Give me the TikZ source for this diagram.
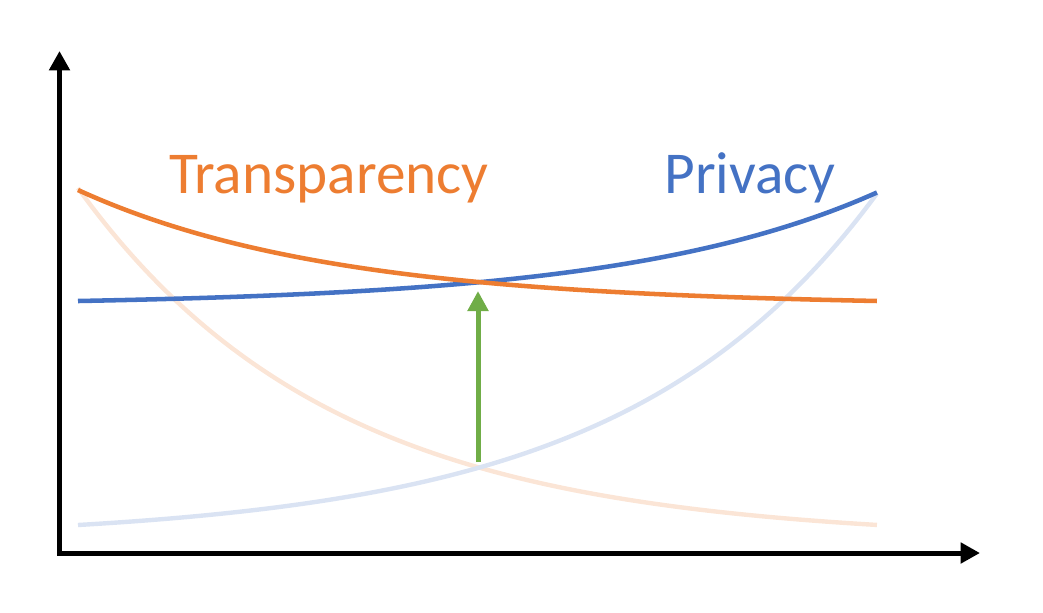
\documentclass[tikz,border=0pt]{standalone}
\usepackage{fontspec}
\setmainfont{Carlito}
\usetikzlibrary{arrows.meta}
\definecolor{cOrange}{HTML}{ED7D31}
\definecolor{cBlue}{HTML}{4472C4}
\definecolor{cGreen}{HTML}{70AD47}
\definecolor{cOrangeL}{HTML}{FBE5D6}
\definecolor{cBlueL}{HTML}{DAE3F3}
\tikzset{
  axisline/.style={line width=3.75pt, black, line join=miter,
    {Triangle[width=15pt,length=14.5pt]}-{Triangle[width=15pt,length=14.5pt]}},
  curve/.style={line width=3.4pt},
  faded/.style={line width=3.3pt},
  lift/.style={line width=3.75pt, cGreen, -{Triangle[width=15pt,length=15pt]}},
  label/.style={inner sep=0pt, anchor=base, font=\fontsize{44.5pt}{44.5pt}\selectfont}
}
\begin{document}
\begin{tikzpicture}[x=0.75pt,y=-0.75pt]
\useasboundingbox (0,0) rectangle (1043,612);
% axes
\coordinate (ytop) at (59.5,51);
\coordinate (xend) at (980,553);
\draw[axisline] (ytop) |- (xend);
% faded curves
\draw[faded, cOrangeL] plot[domain=0:1, samples=120, variable=\t]
  ({78+800*\t}, {525-337*(exp(3.15*(1-\t))-1)/22.34});
\draw[faded, cBlueL] plot[domain=0:1, samples=120, variable=\t]
  ({78+800*\t}, {525-333*(exp(3.15*\t)-1)/22.34});
% strong curves
\draw[curve, cBlue] plot[domain=0:1, samples=120, variable=\t]
  ({78+800*\t}, {301-109*(exp(3.15*\t)-1)/22.34});
\draw[curve, cOrange] plot[domain=0:1, samples=120, variable=\t]
  ({78+800*\t}, {301-111*(exp(3.15*(1-\t))-1)/22.34});
% green arrow
\coordinate (low) at (478,462);
\coordinate (high) at (478,291);
\draw[lift] (low) -- (high);
% labels
\node[label, text=cOrange] (transp) at (329,193) {Transparency};
\node[label, text=cBlue] (priv) at (750,193) {Privacy};
\end{tikzpicture}
\end{document}
